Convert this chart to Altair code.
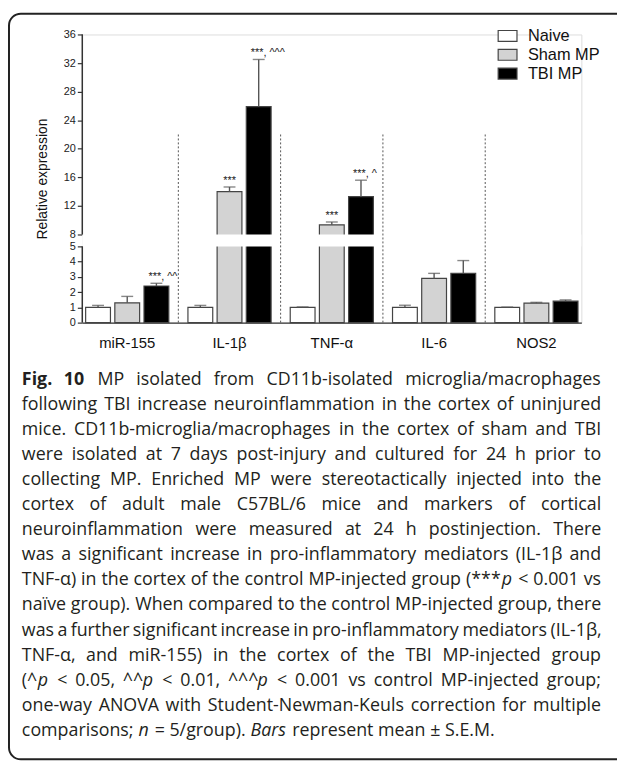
import altair as alt
import pandas as pd

# ---------------- data ----------------
groups = ["miR-155", "IL-1β", "TNF-α", "IL-6", "NOS2"]
series = ["Naive", "Sham MP", "TBI MP"]
naive_mean = [1.0, 1.0, 1.0, 1.0, 1.0]
naive_sem = [0.13, 0.13, 0.03, 0.14, 0.02]
sham_mean = [1.3, 14.0, 9.35, 2.9, 1.28]
sham_sem = [0.42, 0.65, 0.4, 0.33, 0.05]
tbi_mean = [2.4, 25.9, 13.3, 3.23, 1.41]
tbi_sem = [0.18, 6.6, 2.3, 0.84, 0.08]
sham_sig = ["", "***", "***", "", ""]
tbi_sig = ["***, ^^", "***, ^^^", "***, ^", "", ""]
y_ticks = [0, 1, 2, 3, 4, 5, 8, 12, 16, 20, 24, 28, 32, 36]
y_breaks = [0, 5, 8, 36]          # lower segment 0-5, upper segment 8-36
divider_groups = groups[1:]
divider_top = 22

caption_lines = [
    "¤Fig. 10¤ MP isolated from CD11b-isolated microglia/macrophages",
    "following TBI increase neuroinflammation in the cortex of uninjured",
    "mice. CD11b-microglia/macrophages in the cortex of sham and TBI",
    "were isolated at 7 days post-injury and cultured for 24 h prior to",
    "collecting MP. Enriched MP were stereotactically injected into the",
    "cortex of adult male C57BL/6 mice and markers of cortical",
    "neuroinflammation were measured at 24 h postinjection. There",
    "was a significant increase in pro-inflammatory mediators (IL-1β and",
    "TNF-α) in the cortex of the control MP-injected group (***§p§ < 0.001 vs",
    "naïve group). When compared to the control MP-injected group, there",
    "was a further significant increase in pro-inflammatory mediators (IL-1β,",
    "TNF-α, and miR-155) in the cortex of the TBI MP-injected group",
    "(^§p§ < 0.05, ^^§p§ < 0.01, ^^^§p§ < 0.001 vs control MP-injected group;",
    "one-way ANOVA with Student-Newman-Keuls correction for multiple",
    "comparisons; §n§ = 5/group). §Bars§ represent mean ± S.E.M.",
]

# ---------------- tables ----------------
rows = []
for s, means, sems in zip(series, [naive_mean, sham_mean, tbi_mean],
                          [naive_sem, sham_sem, tbi_sem]):
    for g, m, e in zip(groups, means, sems):
        rows.append(dict(group=g, series=s, mean=m, hi=m + e))
bars_df = pd.DataFrame(rows)

sig_rows = []
for g, a in zip(groups, sham_sig):
    if a:
        sig_rows.append(dict(group=g, series="Sham MP", label=a))
for g, a in zip(groups, tbi_sig):
    if a:
        sig_rows.append(dict(group=g, series="TBI MP", label=a))
sig_df = pd.DataFrame(sig_rows).merge(bars_df, on=["group", "series"])

axis_df = pd.DataFrame({"lo": [y_breaks[0], y_breaks[2]], "hi": [y_breaks[1], y_breaks[3]]})
gap_df = pd.DataFrame({"lo": [y_breaks[1]], "hi": [y_breaks[2]]})
div_df = pd.DataFrame({"group": divider_groups, "lo": 0, "hi": divider_top})

# ---------------- layout constants ----------------
W, H = 504, 291
LOWER_PX, GAP_PX = 77, 12
PAD_L, PAD_T = 75, 23
SVG_W, SVG_H = 615, 756
AX_FONT = "Liberation Sans, Arial, Helvetica, sans-serif"
CAP_FONT = "Open Sans"
FS = 18
CAP_LEFT, CAP_RIGHT = -61, 524
CAP_TOP, CAP_LEAD = 354, 25.3

OS = {' ': 532, '!': 565, '(': 606, ')': 606, '*': 1128, '+': 1169, ',': 502,
      '-': 659, '.': 545, '/': 752, ':': 545, ';': 545, '<': 1169, '=': 1169,
      '>': 1169, '^': 1100, '±': 1169, 'ï': 518, 'α': 1255, 'β': 1255,
      'A': 1296, 'B': 1327, 'C': 1292, 'D': 1493, 'E': 1139, 'F': 1057, 'G': 1491,
      'H': 1511, 'I': 571, 'J': 547, 'K': 1257, 'L': 1063, 'M': 1849, 'N': 1544,
      'O': 1595, 'P': 1233, 'Q': 1595, 'R': 1266, 'S': 1124, 'T': 1124, 'U': 1511,
      'V': 1198, 'W': 1890, 'X': 1202, 'Y': 1163, 'Z': 1165,
      'a': 1139, 'b': 1255, 'c': 975, 'd': 1255, 'e': 1149, 'f': 694, 'g': 1122,
      'h': 1257, 'i': 518, 'j': 518, 'k': 1075, 'l': 518, 'm': 1905, 'n': 1257,
      'o': 1237, 'p': 1255, 'q': 1255, 'r': 836, 's': 977, 't': 723, 'u': 1257,
      'v': 1026, 'w': 1593, 'x': 1073, 'y': 1028, 'z': 924}
for d in "0123456789":
    OS[d] = 1171


def text_width(s, style):
    w = sum(OS.get(ch, 1100) for ch in s) / 2048.0 * FS
    if style == "bold":
        w *= 1.06
    elif style == "italic":
        w = w * 0.97 + 1.0
    return w


def parse(line):
    words, cur, buf, style = [], [], "", "normal"
    for ch in line:
        if ch in "¤§":
            if buf:
                cur.append((buf, style))
                buf = ""
            target = "bold" if ch == "¤" else "italic"
            style = "normal" if style == target else target
        elif ch == " ":
            if buf:
                cur.append((buf, style))
                buf = ""
            if cur:
                words.append(cur)
                cur = []
        else:
            buf += ch
    if buf:
        cur.append((buf, style))
    if cur:
        words.append(cur)
    return words


cap_rows = []
space_w = text_width(" ", "normal")
for i, line in enumerate(caption_lines):
    words = parse(line)
    widths = []
    for w in words:
        tot = 0.0
        for k, (t, st) in enumerate(w):
            if k > 0 and st == "italic":
                tot += 1.0
            tot += text_width(t, st)
        widths.append(tot)
    if i < len(caption_lines) - 1:
        gap = (CAP_RIGHT - CAP_LEFT - sum(widths)) / (len(words) - 1)
        gap = max(gap, 0.6 * space_w)
    else:
        gap = space_w
    x = CAP_LEFT
    y = CAP_TOP + i * CAP_LEAD
    for w, wd in zip(words, widths):
        xx = x
        for k, (t, st) in enumerate(w):
            if k > 0 and st == "italic":
                xx += 1.0
            cap_rows.append(dict(text=t, style=st, x=xx, y=y))
            xx += text_width(t, st)
        x += wd + gap
cap_df = pd.DataFrame(cap_rows)

# ---------------- scales & axes ----------------
x_scale = alt.Scale(domain=groups, paddingInner=0.187, paddingOuter=0.033)
xo_scale = alt.Scale(domain=series, paddingInner=0.15, paddingOuter=0)
y_scale = alt.Scale(domain=y_breaks, range=[H, H - LOWER_PX, H - LOWER_PX - GAP_PX, 0],
                    nice=False, zero=False)

X_AXIS = alt.Axis(title=None, ticks=False, domain=True, domainColor="#333",
                  domainWidth=1.5, labelFontSize=15, labelFont=AX_FONT,
                  labelColor="#111", labelPadding=13, labelAngle=0, grid=False)
Y_AXIS = alt.Axis(values=y_ticks, domain=False, grid=False, tickSize=5,
                  tickColor="#333", tickWidth=1.2, labelFontSize=11,
                  labelFont=AX_FONT, labelColor="#222", labelPadding=2,
                  labelOverlap=False, title="Relative expression",
                  titleFont=AX_FONT, titleFontSize=14, titleFontWeight="normal",
                  titleColor="#111", titlePadding=14)


def Xg(**kw):
    return alt.X("group:N", scale=x_scale, sort=groups, axis=X_AXIS, **kw)


def Yf(field):
    return alt.Y(field, scale=y_scale, axis=Y_AXIS)


XO = alt.XOffset("series:N", scale=xo_scale, sort=series)

bars = alt.Chart(bars_df).mark_bar(stroke="#444", strokeWidth=1.2).encode(
    x=Xg(), xOffset=XO, y=Yf("mean:Q"),
    fill=alt.Fill("series:N", scale=alt.Scale(domain=series, range=["#ffffff", "#d3d3d3", "#000000"]),
                  legend=alt.Legend(orient="none", legendX=419, legendY=-9, title=None,
                                    symbolType="M-1,-0.58H1V0.58H-1Z", symbolSize=361,
                                    symbolStrokeColor="#444", symbolStrokeWidth=1.2,
                                    symbolOpacity=1, labelFont=AX_FONT, labelFontSize=16.5,
                                    labelColor="#111", labelOffset=10, rowPadding=-1,
                                    padding=0)),
)

gap = alt.Chart(gap_df).mark_rect(fill="white").encode(
    x=alt.value(0), x2=alt.value(W), y=Yf("lo:Q"), y2="hi:Q")

dividers = alt.Chart(div_df).mark_rule(stroke="#555", strokeWidth=1, strokeDash=[2, 2],
                                       xOffset=-9.7).encode(
    x=Xg(bandPosition=0), y=Yf("lo:Q"), y2="hi:Q")

err = alt.Chart(bars_df).mark_rule(stroke="#555", strokeWidth=1.4).encode(
    x=Xg(), xOffset=XO, y=Yf("mean:Q"), y2="hi:Q")

caps = alt.Chart(bars_df).mark_tick(color="#555", size=12, thickness=1.4).encode(
    x=Xg(), xOffset=XO, y=Yf("hi:Q"))

sig_sham = alt.Chart(sig_df).transform_filter(alt.datum.series == "Sham MP").mark_text(
    font=AX_FONT, fontSize=11, color="#222", align="center", baseline="alphabetic", dy=-3).encode(
    x=Xg(), xOffset=XO, y=Yf("hi:Q"), text="label:N")

sig_tbi = alt.Chart(sig_df).transform_filter(alt.datum.series == "TBI MP").mark_text(
    font=AX_FONT, fontSize=11, color="#222", align="left", baseline="alphabetic", dx=-8, dy=-3).encode(
    x=Xg(), xOffset=XO, y=Yf("hi:Q"), text="label:N")

yaxis = alt.Chart(axis_df).mark_rule(stroke="#333", strokeWidth=1.5).encode(
    x=alt.value(0), y=Yf("lo:Q"), y2="hi:Q")


def cap_layer(style, **kw):
    return alt.Chart(cap_df).transform_filter(alt.datum.style == style).mark_text(
        align="left", baseline="alphabetic", font=CAP_FONT, fontSize=FS,
        color="#231f20", **kw).encode(
        x=alt.X("x:Q", scale=None, axis=None),
        y=alt.Y("y:Q", scale=None, axis=None),
        text="text:N")


border_df = pd.DataFrame({"k": [0]})
border = alt.Chart(border_df).mark_rect(fillOpacity=0, stroke="#222", strokeWidth=2,
                                        cornerRadius=12).encode(
    x=alt.value(-74), x2=alt.value(580), y=alt.value(-21), y2=alt.value(732))

chart = alt.layer(
    bars, gap, dividers, err, caps, sig_sham, sig_tbi, yaxis,
    cap_layer("normal"), cap_layer("bold", fontWeight="bold"),
    cap_layer("italic", fontStyle="italic"), border,
).properties(
    width=W, height=H,
    autosize=alt.AutoSizeParams(type="none"),
    padding={"left": PAD_L, "top": PAD_T, "right": SVG_W - PAD_L - W,
             "bottom": SVG_H - PAD_T - H},
).configure_view(stroke=None).configure_axisY(labelOverlap=False).configure(background="white")

chart.save("out.html", embed_options={"renderer": "svg", "actions": False})
